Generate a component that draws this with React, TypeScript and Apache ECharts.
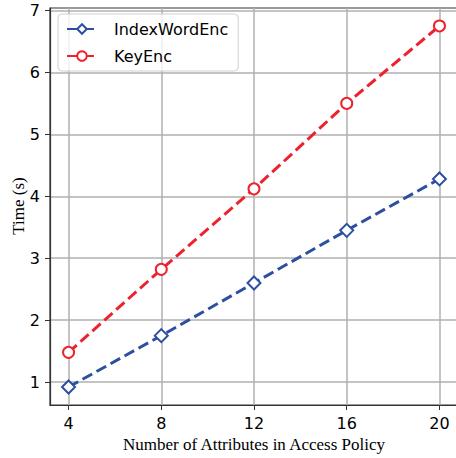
import React, { useEffect, useRef } from "react";
import * as echarts from "echarts";

const attributes = [4, 8, 12, 16, 20];
const indexWordEnc = [0.92, 1.75, 2.6, 3.45, 4.28];
const keyEnc = [1.48, 2.82, 4.12, 5.5, 6.75];
const xTicks = [4, 8, 12, 16, 20];
const yTicks = [1, 2, 3, 4, 5, 6, 7];
const yTitle = "Time (s)";

export default function App() {
  const ref = useRef<HTMLDivElement>(null);
  useEffect(() => {
    const chart = echarts.init(ref.current!, null, { renderer: "svg" });
    const axisColor = "#333333";
    chart.setOption({
      animation: false,
      backgroundColor: "#ffffff",
      grid: {
        left: 50, top: 8, width: 408, height: 397,
        outerBoundsMode: "none", containLabel: false,
        show: true, borderColor: axisColor, borderWidth: 1.2,
      },
      graphic: [
        {
          type: "text",
          x: 18,
          y: 206,
          rotation: Math.PI / 2,
          style: {
            text: yTitle,
            fontFamily: "Liberation Serif",
            fontSize: 17,
            fill: "#000",
            textAlign: "center",
            textVerticalAlign: "middle",
          },
        },
      ],
      legend: {
        left: 58,
        top: 14,
        orient: "vertical",
        padding: [7, 10, 7, 8],
        itemWidth: 30,
        itemHeight: 12,
        itemGap: 11,
        backgroundColor: "rgba(255,255,255,0.8)",
        borderColor: "#d0d0d0",
        borderWidth: 1,
        borderRadius: 4,
        textStyle: { fontFamily: "DejaVu Sans", fontSize: 16, color: "#000", padding: [0, 0, 0, 12] },
        data: ["IndexWordEnc", "KeyEnc"],
      },
      xAxis: {
        type: "value",
        min: 3.2,
        max: 20.8,
        name: "Number of Attributes in Access Policy",
        nameLocation: "middle",
        nameGap: 30,
        nameTextStyle: { fontFamily: "Liberation Serif", fontSize: 17, color: "#000" },
        axisLine: { show: true, lineStyle: { color: axisColor, width: 1.2 } },
        axisTick: { show: true, customValues: xTicks, length: 5, lineStyle: { color: axisColor } },
        axisLabel: { customValues: xTicks, fontFamily: "DejaVu Sans", fontSize: 16, color: "#000", margin: 10 },
        splitLine: { show: true, lineStyle: { color: "#b0b0b0", width: 1.5 } },
      },
      yAxis: {
        type: "value",
        min: 0.63,
        max: 7.04,
        axisLine: { show: true, lineStyle: { color: axisColor, width: 1.2 } },
        axisTick: { show: true, customValues: yTicks, length: 5, lineStyle: { color: axisColor } },
        axisLabel: { customValues: yTicks, fontFamily: "DejaVu Sans", fontSize: 16, color: "#000", margin: 10 },
        splitLine: { show: true, lineStyle: { color: "#b0b0b0", width: 1.5 } },
      },
      series: [
        {
          name: "IndexWordEnc",
          type: "line",
          data: attributes.map((a, i) => [a, indexWordEnc[i]]),
          symbol: "emptyDiamond",
          symbolSize: 13,
          lineStyle: { color: "#2c4fa0", width: 3, type: [11, 5] },
          itemStyle: { color: "#2c4fa0", borderWidth: 1.5 },
          z: 3,
        },
        {
          name: "KeyEnc",
          type: "line",
          data: attributes.map((a, i) => [a, keyEnc[i]]),
          symbol: "emptyCircle",
          symbolSize: 11,
          lineStyle: { color: "#ee222e", width: 3, type: [11, 5] },
          itemStyle: { color: "#ee222e", borderWidth: 1.5 },
          z: 3,
        },
      ],
    });
    return () => chart.dispose();
  }, []);
  return <div ref={ref} style={{ width: 456, height: 458, position: "absolute", left: 0, top: 0 }} />;
}
